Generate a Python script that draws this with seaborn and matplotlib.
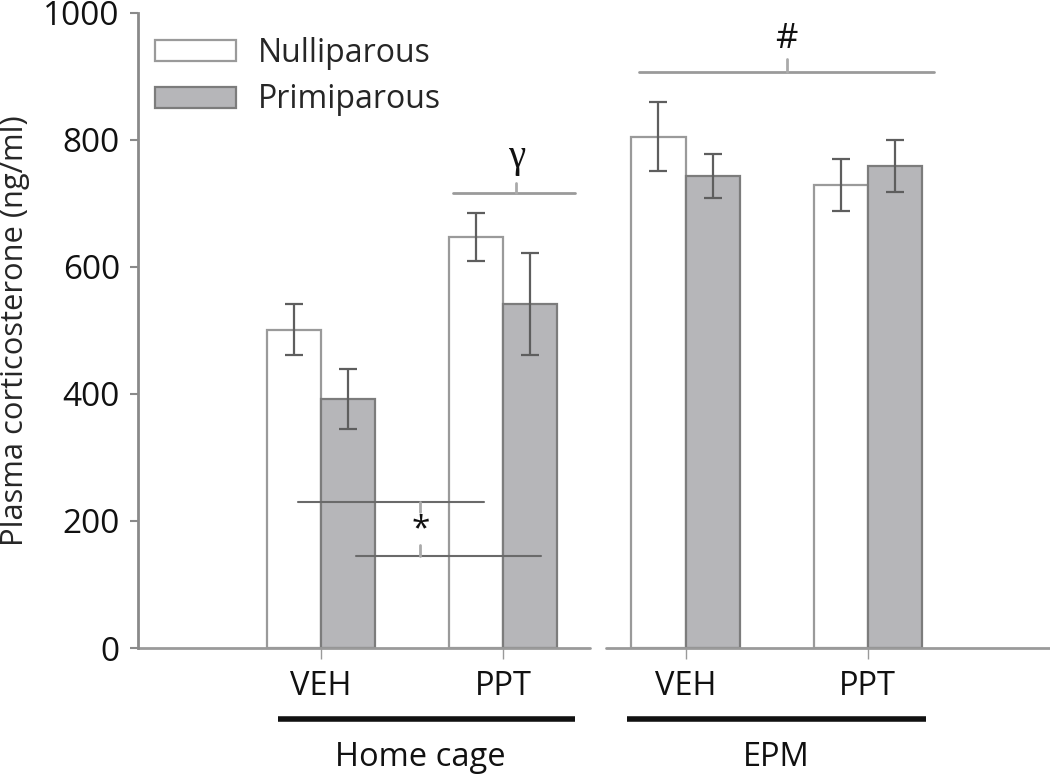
import matplotlib
matplotlib.use("Agg")
import matplotlib.pyplot as plt
import matplotlib.transforms as mtransforms
import numpy as np
import pandas as pd
import seaborn as sns

# ---- data ----
conditions = ["HC-VEH", "HC-PPT", "EPM-VEH", "EPM-PPT"]
tick_labels = ["VEH", "PPT", "VEH", "PPT"]
groups = ["Nulliparous", "Primiparous"]
null_mean = [501, 647, 805, 729]
null_sem = [40, 38, 54, 41]
prim_mean = [392, 542, 743, 759]
prim_sem = [47, 80, 34, 41]
context_labels = ["Home cage", "EPM"]

df = pd.DataFrame({
    "cond": conditions * 2,
    "group": [groups[0]] * 4 + [groups[1]] * 4,
    "value": null_mean + prim_mean,
})
sems = {groups[0]: null_sem, groups[1]: prim_sem}

sns.set_style("white")
plt.rcParams["font.family"] = ["Open Sans", "DejaVu Sans"]

fig = plt.figure(figsize=(10.5, 7.78), dpi=100)
ax = fig.add_axes([0.1314, 0.167, 0.8686, 0.8167])

fill = {"Nulliparous": "white", "Primiparous": "#b6b6b9"}
edge = {"Nulliparous": "#9a9a9a", "Primiparous": "#7c7c7c"}

sns.barplot(data=df, x="cond", y="value", hue="group", order=conditions,
            hue_order=groups, palette=fill, width=0.594, errorbar=None,
            legend=False, ax=ax, saturation=1)

bar_containers = list(ax.containers)
for cont, g in zip(bar_containers, groups):
    for p in cont.patches:
        p.set_edgecolor(edge[g])
        p.set_linewidth(1.6)
    xs = [p.get_x() + p.get_width() / 2 for p in cont.patches]
    ys = [p.get_height() for p in cont.patches]
    ax.errorbar(xs, ys, yerr=sems[g], fmt="none", ecolor="#5e5e5e",
                elinewidth=1.6, capsize=6.5, capthick=1.6, zorder=5)

ax.set_ylim(0, 1000)
ax.set_xlim(-1.005, 4.0)
ax.set_yticks([0, 200, 400, 600, 800, 1000])
ax.set_xticks(range(4))
ax.set_xticklabels(tick_labels)
ax.set_xlabel("")
ax.set_ylabel("Plasma corticosterone (ng/ml)", fontsize=22.2)
ax.yaxis.set_label_coords(-0.118, 0.5)
ax.tick_params(axis="y", labelsize=24, length=6, width=1.5, color="#8a8a8a",
               direction="out", left=True, pad=7)
ax.tick_params(axis="x", labelsize=23.5, length=8, width=1.0, color="#9a9a9a",
               direction="out", bottom=True, pad=8)
for lab in ax.get_yticklabels() + ax.get_xticklabels():
    lab.set_color("#111111")

for s in ["top", "right"]:
    ax.spines[s].set_visible(False)
ax.spines["left"].set_color("#8a8a8a")
ax.spines["left"].set_linewidth(2)
ax.spines["bottom"].set_visible(False)
# broken baseline
for x0, x1 in [(-1.005, 1.473), (1.566, 4.0)]:
    ax.plot([x0, x1], [0, 0], color="#9a9a9a", lw=2, clip_on=False, zorder=1)

# context bars below the axis
trans = mtransforms.blended_transform_factory(ax.transData, ax.transAxes)
ctx_spans = [(-0.236, 1.396), (1.68, 3.32)]
ctx_text_x = [0.545, 2.5]
for (x0, x1), tx, lab in zip(ctx_spans, ctx_text_x, context_labels):
    ax.plot([x0, x1], [-0.112, -0.112], color="#111111", lw=4,
            transform=trans, clip_on=False, solid_capstyle="butt")
    ax.text(tx, -0.173, lab, transform=trans, ha="center",
            va="center", fontsize=23.5, color="#111111")

# significance annotations
ann_color = "#6a6a6a"
ax.plot([-0.126, 0.896], [230, 230], color=ann_color, lw=1.5, zorder=6)
ax.plot([0.192, 1.209], [145, 145], color=ann_color, lw=1.5, zorder=6)
ax.plot([0.544, 0.544], [230, 214], color="#aaaaaa", lw=2, zorder=6)
ax.plot([0.544, 0.544], [145, 162], color="#aaaaaa", lw=2, zorder=6)
ax.text(0.544, 186, "*", ha="center", va="center", fontsize=24, color="#111111")
ax.plot([0.725, 1.396], [716, 716], color="#9a9a9a", lw=2, zorder=6)
ax.plot([1.071, 1.071], [716, 732], color="#aaaaaa", lw=2, zorder=6)
ax.text(1.071, 772, "γ", ha="center", va="center", fontsize=28,
        color="#111111", family=["Liberation Serif", "DejaVu Serif"])
ax.plot([1.747, 3.363], [907, 907], color="#9a9a9a", lw=2, zorder=6)
ax.plot([2.555, 2.555], [907, 927], color="#aaaaaa", lw=2, zorder=6)
ax.text(2.555, 958, "#", ha="center", va="center", fontsize=25, color="#111111")

leg = ax.legend(handles=[c.patches[0] for c in bar_containers], labels=groups,
                loc="upper left", bbox_to_anchor=(0.0046, 0.982), frameon=False,
                fontsize=23, handlelength=2.53, handleheight=0.63,
                handletextpad=0.69, labelspacing=0.42, borderaxespad=0)

fig.savefig("out.png", dpi=100)
